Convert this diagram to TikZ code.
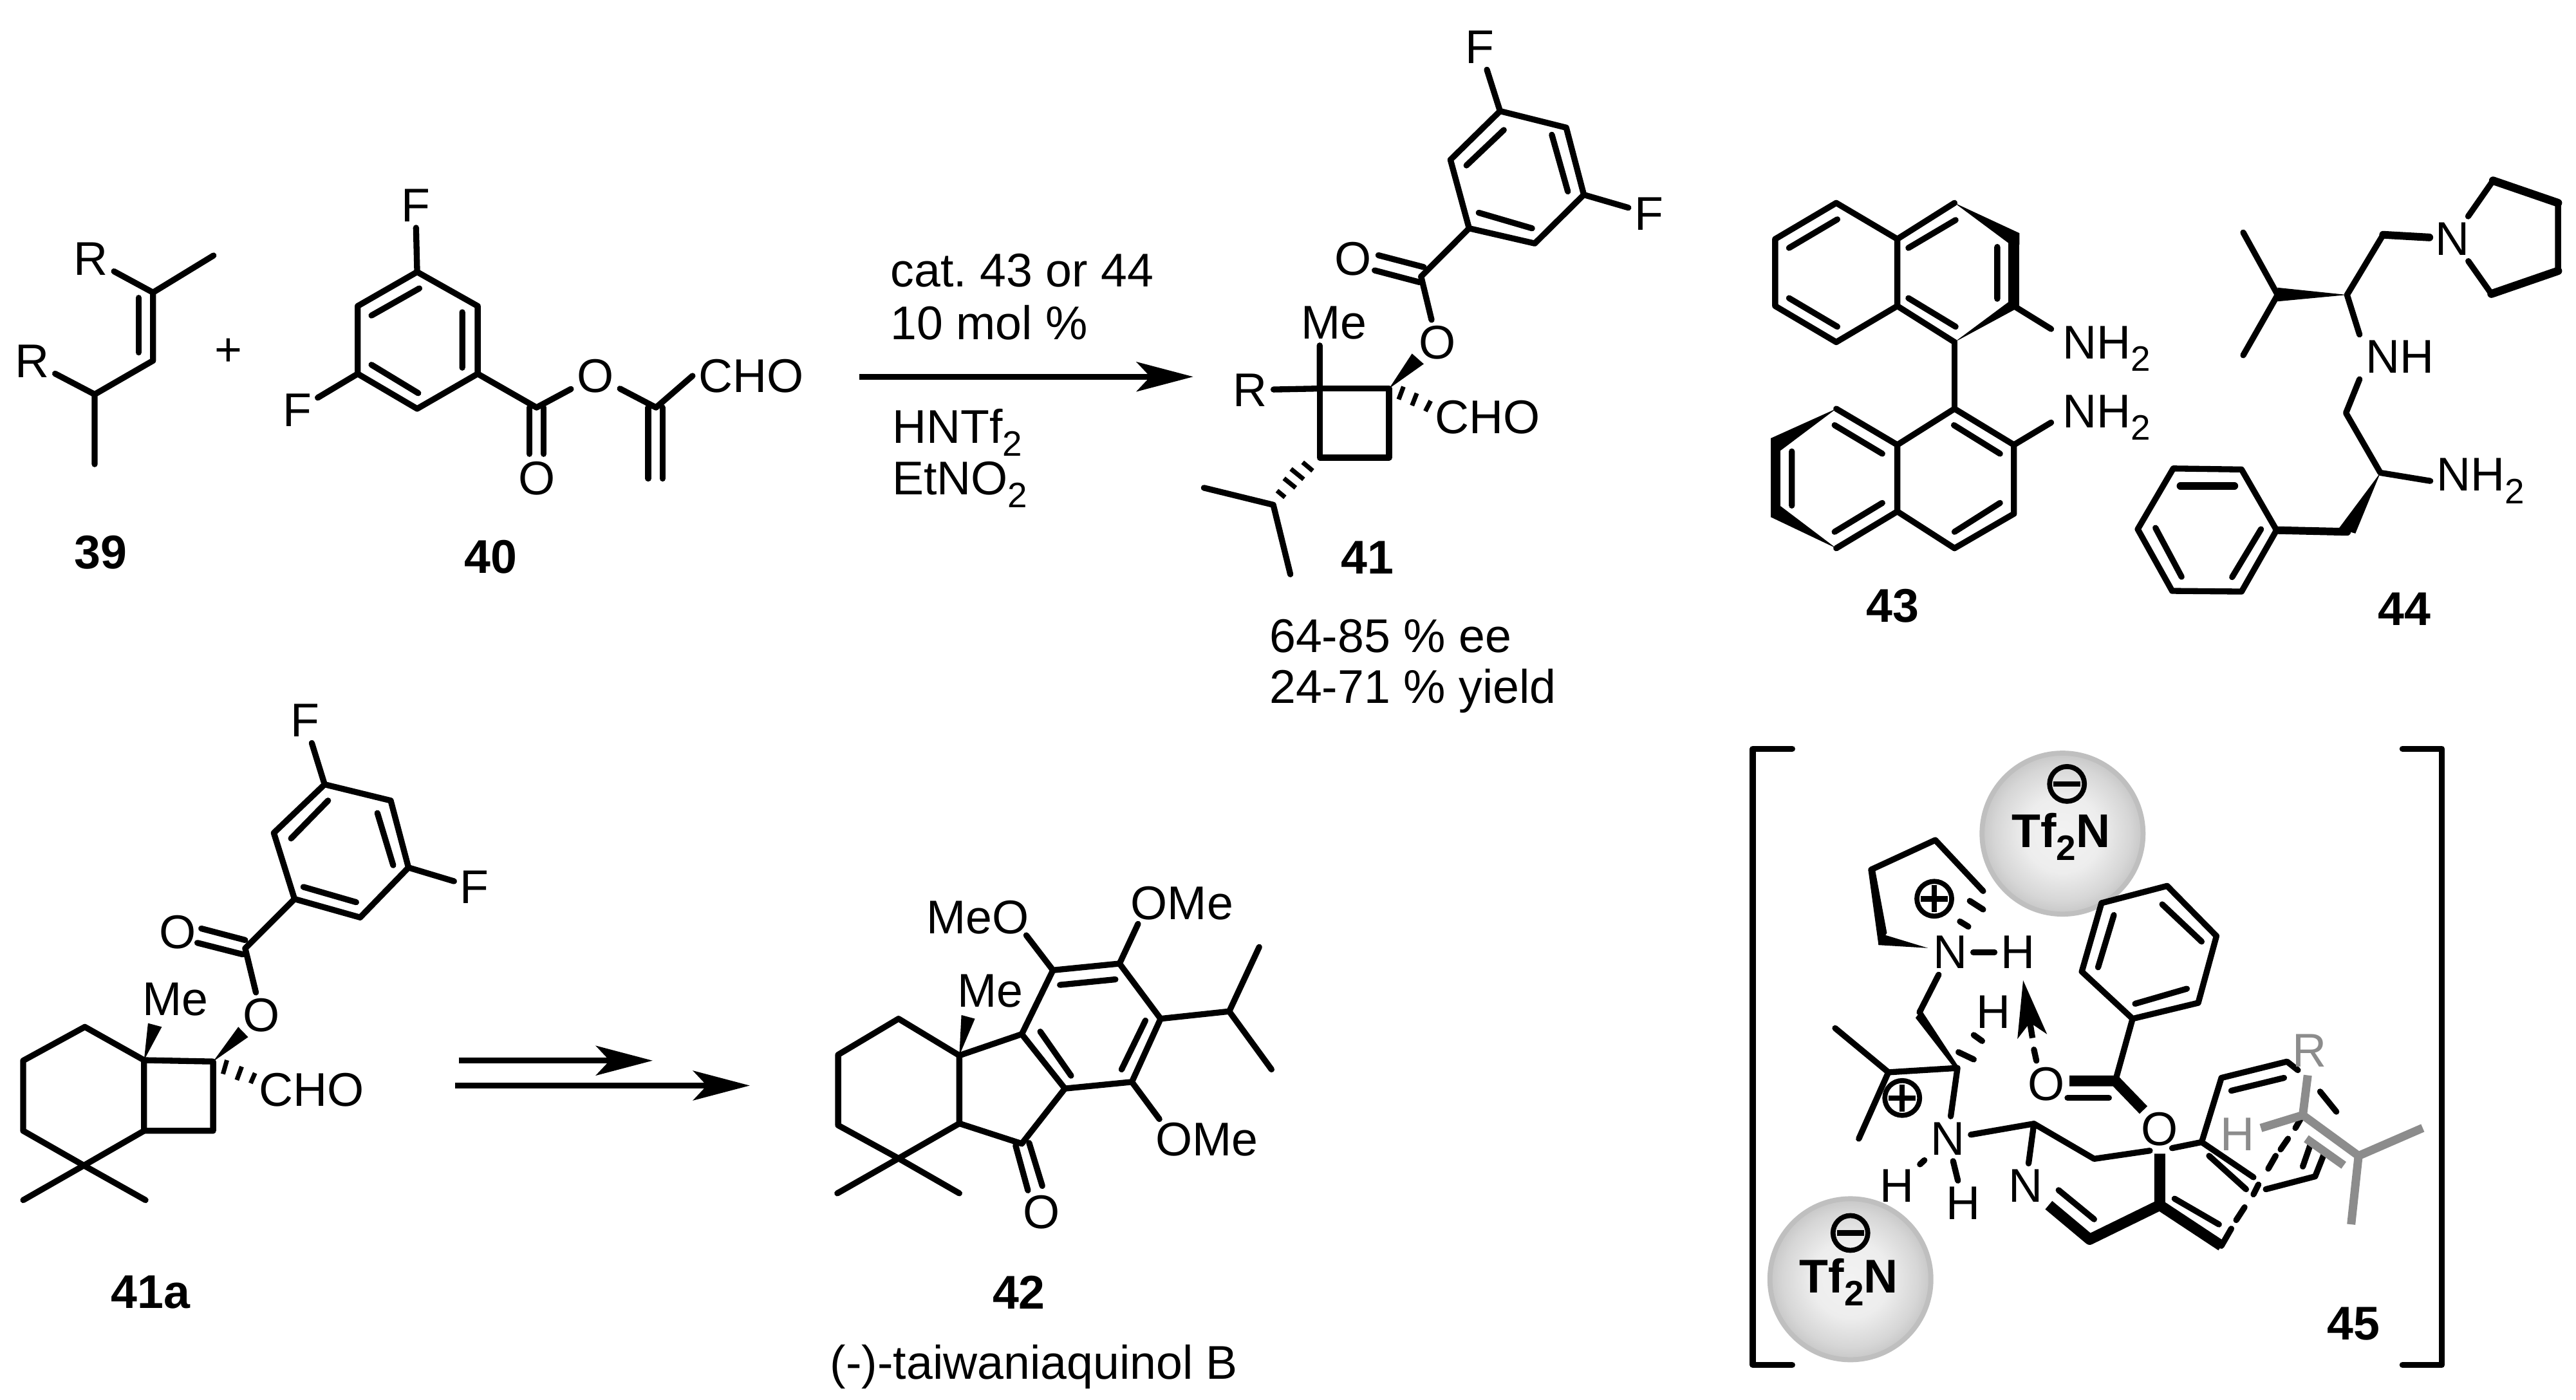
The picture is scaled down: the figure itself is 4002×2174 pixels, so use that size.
\documentclass[tikz,border=0pt]{standalone}
\usepackage{fontspec}
\setmainfont{Liberation Sans}
\usetikzlibrary{arrows.meta}
\frenchspacing
\newcommand{\lf}{\fontsize{20.9}{25}\selectfont}
\newcommand{\lfb}{\fontsize{20.9}{25}\selectfont\bfseries}
\newcommand{\sbs}[1]{\raisebox{-.27em}{\fontsize{15.6}{16}\selectfont #1}}
\definecolor{rim}{gray}{0.75}
\definecolor{greypart}{gray}{0.55}
\pgfdeclareradialshading{sphereshade}{\pgfpoint{0bp}{0bp}}{%
  color(0bp)=(white!95!black); color(12bp)=(white!93!black); color(21bp)=(white!84!black); color(25bp)=(white!78!black); color(50bp)=(white!78!black)}
\tikzset{
  bond/.style={line width=2.65pt,line cap=round,line join=round},
  thick bond/.style={line width=4.8pt,line cap=butt,line join=round},
  lab/.style={font=\lf,inner sep=2.5pt},
  lbl/.style={font=\lfb,inner sep=0pt},
  arr/.style={line width=2.65pt,-{Stealth[length=25pt,width=13pt,inset=6pt]}},
  ball/.style={circle,minimum size=2.5cm,draw=rim,line width=2.2pt,shading=sphereshade,inner sep=0pt},
  chgm/.style={circle,draw,line width=2.2pt,minimum size=.54cm,inner sep=0pt,
    path picture={\draw[line width=2.4pt] ([xshift=-6pt]path picture bounding box.center)--([xshift=6pt]path picture bounding box.center);}},
  chgp/.style={circle,draw,line width=2.2pt,minimum size=.54cm,inner sep=0pt,
    path picture={\draw[line width=2.4pt] ([xshift=-6pt]path picture bounding box.center)--([xshift=6pt]path picture bounding box.center)
      ([yshift=-6pt]path picture bounding box.center)--([yshift=6pt]path picture bounding box.center);}},
  cropA/.style={x=0.008546cm,y=-0.006378cm},
  cropB/.style={shift={(1300,0)},x=0.008291cm,y=-0.007334cm},
  cropC/.style={shift={(2650,250)},x=0.008622cm,y=-0.005102cm},
  cropD/.style={shift={(0,1050)},x=0.007653cm,y=-0.007168cm},
  cropE/.style={shift={(1200,1280)},x=0.006378cm,y=-0.005702cm},
  cropF/.style={shift={(2700,1130)},x=0.007653cm,y=-0.006658cm},
}
\begin{document}
\begin{tikzpicture}[x=0.01cm,y=-0.01cm]
\useasboundingbox (0,0) rectangle (4002,2174);
\fill[white] (0,0) rectangle (4002,2174);

% ---------- 39, + and 40
\begin{scope}[cropA]
\node[lab] (Ra) at (165,630) {R};
\node[lab] (Rb) at (58,880) {R};
\path (278,712) coordinate (a1) (388,622) coordinate (a2) (278,878) coordinate (a3)
      (172,960) coordinate (a4) (172,1130) coordinate (a5);
\draw[bond] (a2)--(a1)--(a3)--(a4)--(a5);
\draw[bond] (Ra)--(a1) (Rb)--(a4);
\draw[bond] (252,725)--(252,858);
\node[font=\lf,inner sep=0pt] (plus) at (415,858) {+};
\node[lbl] (n39) at (183,1345) {39};
% 40
\node[lab] (Fa) at (755,500) {F};
\node[lab] (Fb) at (540,998) {F};
\node[lab] (Oa) at (1082,915) {O};
\node[lab] (Ob) at (975,1165) {O};
\node[lab] (CHOa) at (1365,915) {CHO};
\path (758,662) coordinate (r1) (868,745) coordinate (r2) (868,910) coordinate (r3)
      (758,995) coordinate (r4) (650,910) coordinate (r5) (650,745) coordinate (r6)
      (975,992) coordinate (c1) (1192,992) coordinate (c2);
\draw[bond] (r1)--(r2)--(r3)--(r4)--(r5)--(r6)--cycle;
\draw[bond] (762,702)--(675,768) (840,760)--(840,895) (760,957)--(675,888);
\draw[bond] (Fa)--(r1) (Fb)--(r5) (r3)--(c1)--(Oa)--(c2)--(CHOa.west);
\draw[bond] (962,992)--(962,1105) (988,992)--(988,1105);
\draw[bond] (1178,992)--(1178,1165) (1204,992)--(1204,1165);
\node[lbl] (n40) at (892,1355) {40};
\end{scope}

% ---------- conditions and 41
\begin{scope}[cropB]
\path (42,797) coordinate (arrS) (668,797) coordinate (arrE);
\draw[arr] (arrS)--(arrE);
\node[font=\lf,inner sep=0pt,anchor=west] (t1) at (100,572) {cat. 43 or 44};
\node[font=\lf,inner sep=0pt,anchor=west] (t2) at (100,682) {10 mol \%};
\node[font=\lf,inner sep=0pt,anchor=west] (t3) at (103,915) {HNTf\sbs{2}};
\node[font=\lf,inner sep=0pt,anchor=west] (t4) at (103,1025) {EtNO\sbs{2}};
\node[lab] (Rc) at (775,825) {R};
\node[lab] (Mea) at (932,683) {Me};
\node[lab] (Oc) at (1125,725) {O};
\node[lab] (Od) at (968,548) {O};
\node[lab] (CHOb) at (1220,882) {CHO};
\node[lab] (Fc) at (1205,100) {F};
\node[lab] (Fd) at (1522,452) {F};
\path (905,822) coordinate (b1) (1035,822) coordinate (b2) (1035,968) coordinate (b3) (905,968) coordinate (b4)
      (818,1068) coordinate (b5) (688,1032) coordinate (b6) (850,1215) coordinate (b7)
      (1095,585) coordinate (b8)
      (1185,483) coordinate (p1) (1150,338) coordinate (p2) (1243,235) coordinate (p3)
      (1367,270) coordinate (p4) (1400,412) coordinate (p5) (1308,515) coordinate (p6);
\draw[bond] (b1)--(b2)--(b3)--(b4)--cycle;
\draw[bond] (Rc)--(b1) (Mea.south -| b1)--(b1);
\fill (b2)--(1078,748)--(1100,770)--cycle;
\draw[line width=2pt] (1062,818)--(1053,845) (1087,832)--(1078,858) (1113,848)--(1103,870);
\draw[line width=2pt] (892,996)--(873,978) (875,1014)--(851,992) (860,1032)--(838,1012) (840,1052)--(825,1038);
\draw[bond] (b6)--(b5)--(b7);
\draw[bond] (Oc)--(b8)--(p1);
\draw[bond] (1015,540)--(1100,565) (1008,572)--(1092,597);
\draw[bond] (p1)--(p2)--(p3)--(p4)--(p5)--(p6)--cycle;
\draw[bond] (1180,350)--(1250,275) (1340,285)--(1370,405) (1203,450)--(1303,483);
\draw[bond] (Fc)--(p3) (Fd)--(p5);
\node[lbl] (n41) at (995,1180) {41};
\node[font=\lf,inner sep=0pt,anchor=west] (t5) at (810,1345) {64-85 \% ee};
\node[font=\lf,inner sep=0pt,anchor=west] (t6) at (810,1462) {24-71 \% yield};
\end{scope}

% ---------- 43
\begin{scope}[cropC]
\path (235,128) coordinate (t1a) (345,238) coordinate (t2a) (345,442) coordinate (t3a) (235,552) coordinate (t4a)
      (125,442) coordinate (t5a) (125,238) coordinate (t6a) (448,128) coordinate (t7a) (555,235) coordinate (t8a)
      (555,442) coordinate (t9a) (448,552) coordinate (t10a);
\draw[bond] (t1a)--(t2a)--(t3a)--(t4a)--(t5a)--(t6a)--cycle;
\draw[bond] (t2a)--(t7a) (t3a)--(t10a);
\draw[bond] (237,178)--(150,265) (150,418)--(237,505) (365,265)--(450,180) (365,418)--(450,505) (525,262)--(525,420);
\fill (t7a)--(565,220)--(565,255)--(545,250)--cycle;
\fill (t10a)--(545,430)--(565,445)--cycle;
\fill (545,235) rectangle (565,445);
\node[lab,anchor=west] (NH2a) at (632,572) {NH\sbs{2}};
\node[lab,anchor=west] (NH2b) at (632,782) {NH\sbs{2}};
\draw[bond] (t9a)--(622,512);
\path (448,755) coordinate (b7a) (555,865) coordinate (b8a) (555,1075) coordinate (b9a) (448,1180) coordinate (b10a)
      (345,865) coordinate (b2a) (345,1068) coordinate (b3a) (235,755) coordinate (b1a) (235,1180) coordinate (b4a)
      (125,1085) coordinate (b5a) (125,850) coordinate (b6a);
\draw[bond] (t10a)--(b7a);
\draw[bond] (b7a)--(b2a)--(b1a) (b2a)--(b3a)--(b4a) (b3a)--(b10a)--(b9a)--(b8a)--(b7a);
\draw[bond] (318,892)--(232,805) (232,1130)--(318,1042) (448,1130)--(530,1042) (530,892)--(447,805) (155,885)--(155,1050);
\fill (b1a)--(117,845)--(135,882)--cycle;
\fill (b4a)--(117,1085)--(135,1052)--cycle;
\fill (117,845) rectangle (135,1085);
\draw[bond] (b8a)--(622,797);
\node[lbl] (n43) at (337,1355) {43};
% 44
\node[lab] (Ne) at (1345,237) {N};
\node[lab] (NHe) at (1250,597) {NH};
\node[lab,anchor=west] (NH2e) at (1305,975) {NH\sbs{2}};
\path (1155,408) coordinate (e1) (1030,408) coordinate (e2) (968,218) coordinate (e3) (968,592) coordinate (e4)
      (1220,225) coordinate (e5) (1153,768) coordinate (e6) (1215,950) coordinate (e7) (1155,1130) coordinate (e8)
      (1418,60) coordinate (g1) (1535,128) coordinate (g2) (1535,335) coordinate (g3) (1415,405) coordinate (g4)
      (1028,1125) coordinate (f1) (965,940) coordinate (f2) (842,937) coordinate (f3) (778,1122) coordinate (f4) (840,1310) coordinate (f5) (965,1312) coordinate (f6);
\fill (e1)--(1030,386)--(1030,428)--cycle;
\draw[bond] (e3)--(e2)--(e4) (e1)--(e5) (e1)--(NHe.north west) (NHe.south west)--(e6)--(e7)--(NH2e.west);
\draw[line width=3.4pt,line cap=round] (e5)--(Ne);
\draw[bond] (Ne)--(g1) (g4)--(Ne) (g2)--(g3);
\draw[line width=3.6pt,line cap=round,line join=round] (g1)--(g2) (g3)--(g4);
\fill (e7)--(1140,1120)--(1170,1135)--cycle;
\draw[line width=3.4pt,line cap=round] (e8)--(f1);
\draw[bond] (f1)--(f2)--(f3)--(f4)--(f5)--(f6)--cycle;
\draw[line width=3.4pt,line cap=round] (855,990)--(952,990);
\draw[bond] (810,1118)--(857,1267) (1000,1122)--(948,1268);
\node[lbl] (n44) at (1258,1365) {44};
\end{scope}

% ---------- 41a and arrows
\begin{scope}[cropD]
\path (172,760) coordinate (h1) (292,832) coordinate (h2) (292,985) coordinate (h3) (170,1060) coordinate (h4)
      (47,985) coordinate (h5) (47,833) coordinate (h6) (432,835) coordinate (h7) (432,985) coordinate (h8)
      (47,1135) coordinate (h9) (295,1135) coordinate (h10) (497,590) coordinate (h11)
      (597,483) coordinate (q1) (555,340) coordinate (q2) (658,235) coordinate (q3) (792,270) coordinate (q4) (828,415) coordinate (q5) (730,523) coordinate (q6);
\node[lab] (Meb) at (355,700) {Me};
\node[lab] (Oe) at (530,735) {O};
\node[lab] (Of) at (360,555) {O};
\node[lab] (CHOc) at (632,897) {CHO};
\node[lab] (Fe) at (618,97) {F};
\node[lab] (Ff) at (962,458) {F};
\draw[bond] (h1)--(h2)--(h3)--(h4)--(h5)--(h6)--cycle;
\draw[bond] (h2)--(h7)--(h8)--(h3);
\draw[bond] (h9)--(h4)--(h10);
\fill (h2)--(300,752)--(328,760)--cycle;
\fill (h7)--(483,760)--(503,782)--cycle;
\draw[line width=2pt] (460,832)--(452,862) (490,846)--(480,875) (517,860)--(508,882);
\draw[bond] (Oe)--(h11)--(q1);
\draw[bond] (408,547)--(497,572) (400,578)--(492,603);
\draw[bond] (q1)--(q2)--(q3)--(q4)--(q5)--(q6)--cycle;
\draw[bond] (590,352)--(665,270) (765,297)--(797,410) (615,457)--(722,490);
\draw[bond] (Fe)--(q3) (Ff)--(q5);
\path (930,833) coordinate (ar1) (1323,833) coordinate (ar2) (923,887) coordinate (ar3) (1520,887) coordinate (ar4);
\draw[arr] (ar1)--(ar2);
\draw[arr] (ar3)--(ar4);
\node[lbl] (n41a) at (305,1335) {41a};
\end{scope}

% ---------- 42
\begin{scope}[cropE]
\path (307,530) coordinate (k1) (455,630) coordinate (k2) (455,815) coordinate (k3) (307,910) coordinate (k4)
      (160,820) coordinate (k5) (160,628) coordinate (k6) (607,572) coordinate (k7) (712,720) coordinate (k8) (607,870) coordinate (k9)
      (683,398) coordinate (k10) (845,380) coordinate (k11) (945,530) coordinate (k12) (875,702) coordinate (k13)
      (1112,510) coordinate (k14) (1185,335) coordinate (k15) (1215,668) coordinate (k16) (158,1005) coordinate (k17) (455,1005) coordinate (k18);
\node[lab] (Mec) at (530,455) {Me};
\node[lab] (MeO) at (500,255) {MeO};
\node[lab] (OMea) at (997,215) {OMe};
\node[lab] (OMeb) at (1058,858) {OMe};
\node[lab] (Og) at (655,1057) {O};
\draw[bond] (k1)--(k2)--(k3)--(k4)--(k5)--(k6)--cycle;
\draw[bond] (k2)--(k7)--(k8)--(k9)--(k3);
\draw[bond] (k7)--(k10)--(k11)--(k12)--(k13)--(k8);
\draw[bond] (700,438)--(835,423) (908,535)--(850,668) (727,685)--(652,565);
\fill (k2)--(460,520)--(493,530)--cycle;
\draw[bond] (k10)--(618,303) (k11)--(890,272);
\draw[bond] (k12)--(k14) (k15)--(k14)--(k16);
\draw[bond] (k13)--(942,803);
\draw[bond] (592,875)--(622,997) (625,868)--(657,985);
\draw[bond] (k17)--(k4)--(k18);
\node[lbl] (n42) at (600,1275) {42};
\node[font=\lf,inner sep=0pt] (taiw) at (637,1478) {(-)-taiwaniaquinol B};
\end{scope}

% ---------- 45
\begin{scope}[cropF]
\path (110,50) coordinate (w1) (30,50) coordinate (w2) (30,1488) coordinate (w3) (110,1488) coordinate (w4)
      (1347,50) coordinate (w5) (1427,50) coordinate (w6) (1427,1488) coordinate (w7) (1347,1488) coordinate (w8);
\draw[bond] (w1)--(w2)--(w3)--(w4) (w5)--(w6)--(w7)--(w8);
\node[ball] (s1) at (658,248) {};
\node[ball] (s2) at (228,1288) {};
\node[chgm] (m1) at (667,132) {};
\node[chgm] (m2) at (228,1180) {};
\node[font=\lfb,inner sep=0pt] (tfa) at (655,255) {Tf\sbs{2}N};
\node[font=\lfb,inner sep=0pt] (tfb) at (225,1295) {Tf\sbs{2}N};
\node[chgp] (p1x) at (398,400) {};
\node[chgp] (p2x) at (333,865) {};
\node[lab] (N1) at (430,525) {N};
\node[lab] (H1) at (567,525) {H};
\node[lab] (H2) at (518,665) {H};
\node[lab] (O1) at (625,832) {O};
\node[lab] (O2) at (855,938) {O};
\node[lab] (N2) at (425,960) {N};
\node[lab] (N3) at (583,1070) {N};
\node[lab] (H3) at (322,1070) {H};
\node[lab] (H4) at (457,1110) {H};
\node[lbl] (n45) at (1248,1392) {45};
% pyrrolidinium
\path (288,507) coordinate (y1) (270,332) coordinate (y2) (400,263) coordinate (y3) (497,382) coordinate (y4)
      (368,665) coordinate (y5) (445,795) coordinate (y6) (305,805) coordinate (y7) (197,702) coordinate (y8) (245,960) coordinate (y9);
\fill (385,515)--(285,480)--(285,508)--cycle;
\fill (264,332)--(278,332)--(302,480)--(285,508)--cycle;
\draw[bond] (y2)--(y3)--(y4);
\draw[bond] (470,405)--(497,425) (450,453)--(467,465);
\draw[bond] (N1)--(H1) (N1)--(y5);
\fill (372,660)--(360,678)--(440,797)--(450,797)--cycle;
\draw[bond] (y6)--(y7)--(y8) (y7)--(y9) (y6)--(N2);
\draw[bond] (447,758)--(478,775) (478,718)--(495,732);
\draw[bond] (605,778)--(600,752);
\path (597,725) coordinate (da1) (578,590) coordinate (da2);
\draw[arr] (da1)--(da2);
% benzoate
\path (765,825) coordinate (z0) (800,680) coordinate (z1) (933,643) coordinate (z2) (970,487) coordinate (z3)
      (870,370) coordinate (z4) (737,410) coordinate (z5) (697,570) coordinate (z6);
\draw[bond] (z0)--(z1)--(z2)--(z3)--(z4)--(z5)--(z6)--(z1);
\draw[bond] (730,560)--(762,438) (860,413)--(940,500) (910,610)--(805,645);
\draw[thick bond] (672,825)--(z0)--(822,893);
\draw[bond] (668,865)--(752,865);
% lower chain
\path (600,925) coordinate (x1) (722,1007) coordinate (x2) (940,968) coordinate (x3) (980,818) coordinate (x4) (1113,780) coordinate (x5);
\draw[bond] (N2)--(H3) (N2)--(H4);
\draw[bond] (N2)--(x1)--(N3) (x1)--(x2)--(835,988);
\draw[bond] (880,982)--(x3)--(x4)--(x5)--(1135,800);
\draw[bond] (1000,848)--(1107,818);
\draw[bond] (1180,850)--(1213,897);
\draw[bond] (x3)--(1045,1050) (955,1000)--(1030,1078);
\draw[bond] (1070,1078)--(1170,1048)--(1190,990) (1160,975)--(1145,1025);
\draw[thick bond] (855,995)--(855,1115)--(713,1195)--(630,1115);
\draw[thick bond] (855,1115)--(980,1210);
\draw[bond] (650,1080)--(722,1148) (885,1100)--(975,1160);
\draw[bond] (980,1210)--(1000,1170) (1010,1150)--(1027,1120) (1045,1090)--(1055,1067) (1075,1030)--(1090,1000) (1100,985)--(1115,960) (1130,935)--(1145,905);
% grey isopropyl part
\node[lab,text=greypart] (Rg) at (1158,755) {R};
\node[lab,text=greypart] (Hg) at (1013,950) {H};
\path (1145,905) coordinate (v1) (1258,1000) coordinate (v2) (1388,935) coordinate (v3) (1243,1160) coordinate (v4) (1155,812) coordinate (v5) (1060,935) coordinate (v6);
\draw[line width=3.7pt,draw=greypart] (v5)--(v1) (v6)--(v1)--(v2)--(v3) (v2)--(v4) (1152,960)--(1228,1022);
\end{scope}
\end{tikzpicture}
\end{document}
